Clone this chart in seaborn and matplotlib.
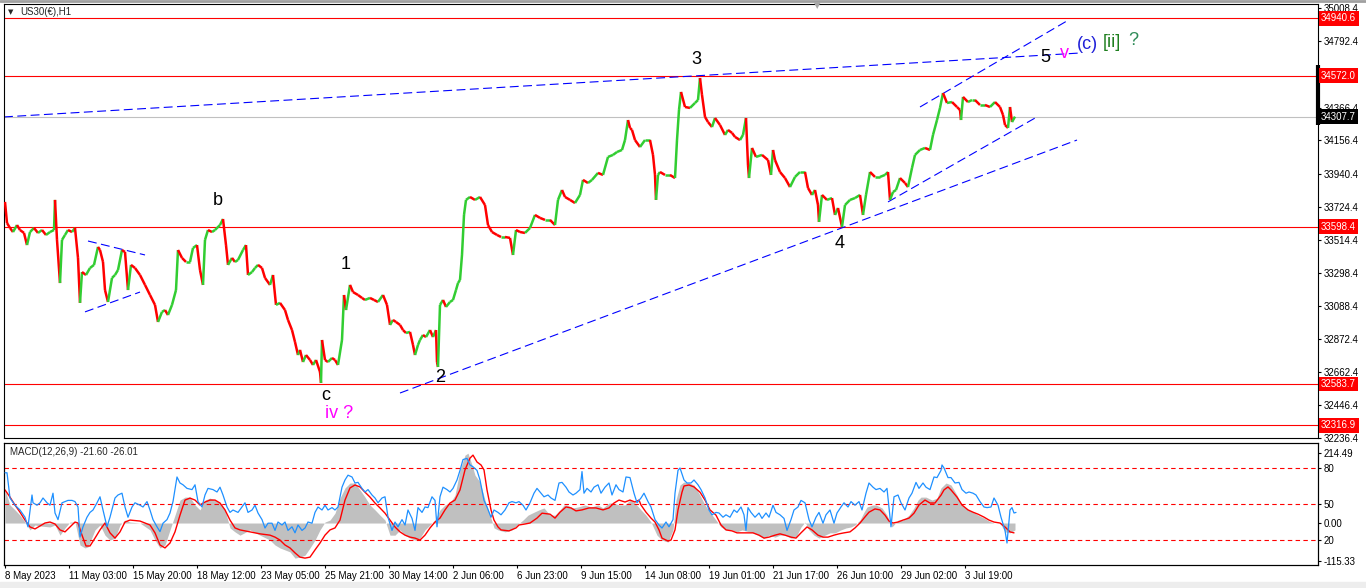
import numpy as np
import matplotlib
matplotlib.use("Agg")
import matplotlib.pyplot as plt
import matplotlib.transforms as mtrans
from matplotlib.collections import LineCollection
import seaborn as sns

# ---------------- data ----------------
# H1 bars are indexed 1 bar per column, as on the MT4 chart
price_bar = [5, 7, 10, 13, 17, 20, 24, 27, 30, 34,
             38, 42, 46, 50, 54, 55, 57, 60, 62, 65,
             68, 72, 75, 78, 80, 82, 86, 90, 94, 98,
             100, 103, 105, 108, 112, 115, 118, 122, 125, 128,
             131, 135, 140, 145, 150, 155, 158, 162, 165, 168,
             172, 176, 178, 182, 186, 190, 193, 197, 200, 203,
             205, 208, 212, 215, 220, 223, 226, 228, 232, 235,
             238, 243, 246, 248, 252, 255, 258, 262, 265, 270,
             273, 276, 280, 285, 288, 292, 295, 298, 300, 303,
             306, 310, 313, 316, 320, 321, 322, 325, 328, 332,
             335, 338, 342, 344, 346, 350, 353, 358, 362, 365,
             370, 374, 378, 383, 387, 390, 393, 396, 400, 403,
             406, 410, 413, 415, 418, 420, 423, 426, 430, 433,
             436, 437, 438, 440, 443, 446, 450, 453, 456, 458,
             460, 462, 464, 466, 470, 475, 480, 485, 488, 492,
             497, 501, 505, 510, 513, 516, 520, 525, 530, 535,
             540, 545, 550, 555, 558, 562, 565, 570, 575, 580,
             583, 588, 592, 598, 603, 608, 613, 617, 622, 625,
             628, 630, 632, 635, 640, 645, 650, 653, 655, 656,
             658, 660, 665, 670, 675, 677, 679, 681, 685, 690,
             695, 698, 700, 702, 705, 708, 712, 715, 720, 725,
             728, 732, 735, 740, 743, 746, 748, 749, 752, 756,
             762, 768, 771, 773, 775, 780, 785, 790, 795, 800,
             805, 808, 812, 815, 818, 819, 822, 827, 832, 835,
             838, 842, 845, 850, 855, 860, 863, 866, 870, 875,
             880, 885, 888, 890, 893, 896, 900, 905, 908, 912,
             915, 920, 925, 930, 933, 937, 940, 943, 947, 952,
             957, 960, 961, 963, 968, 972, 975, 980, 985, 990,
             995, 1000, 1003, 1005, 1008, 1010, 1012, 1015]
price_val = [33758, 33622, 33590, 33564, 33609, 33577, 33558, 33480, 33564, 33590,
             33558, 33577, 33545, 33564, 33577, 33771, 33513, 33235, 33513, 33545,
             33577, 33564, 33590, 33397, 33107, 33306, 33287, 33332, 33352, 33468,
             33448, 33371, 33190, 33113, 33268, 33287, 33319, 33448, 33435, 33190,
             33352, 33332, 33287, 33223, 33158, 33094, 32984, 33049, 33061, 33029,
             33094, 33190, 33448, 33397, 33371, 33371, 33461, 33480, 33319, 33223,
             33513, 33577, 33564, 33577, 33609, 33648, 33480, 33352, 33397, 33371,
             33384, 33448, 33480, 33287, 33306, 33332, 33352, 33332, 33268, 33223,
             33287, 33094, 33107, 33061, 32997, 32932, 32855, 32771, 32804, 32726,
             32771, 32739, 32707, 32739, 32662, 32591, 32868, 32739, 32726, 32752,
             32739, 32707, 32868, 33158, 33061, 33223, 33177, 33158, 33139, 33126,
             33139, 33126, 33113, 33158, 33094, 32965, 32997, 32984, 32965, 32932,
             32913, 32920, 32836, 32771, 32836, 32868, 32900, 32887, 32932, 32887,
             32932, 32726, 32694, 33094, 33126, 33081, 33113, 33126, 33190, 33235,
             33255, 33416, 33674, 33771, 33790, 33771, 33790, 33738, 33609, 33564,
             33545, 33532, 33532, 33526, 33416, 33577, 33564, 33558, 33590, 33674,
             33655, 33642, 33642, 33609, 33771, 33835, 33790, 33771, 33751, 33803,
             33900, 33880, 33900, 33945, 33932, 34048, 34061, 34080, 34093, 34157,
             34286, 34235, 34222, 34157, 34112, 34157, 34157, 34061, 33932, 33771,
             33932, 33951, 33932, 33932, 33912, 34157, 34351, 34467, 34370, 34364,
             34396, 34415, 34557, 34448, 34306, 34273, 34241, 34299, 34254, 34190,
             34222, 34203, 34177, 34157, 34190, 34299, 33996, 33912, 34106, 34048,
             34061, 34028, 33932, 34093, 34028, 33951, 33912, 33854, 33919, 33951,
             33951, 33848, 33803, 33835, 33738, 33629, 33803, 33771, 33783, 33674,
             33719, 33597, 33738, 33771, 33783, 33803, 33674, 33803, 33951, 33919,
             33919, 33932, 33951, 33771, 33822, 33835, 33912, 33880, 33854, 33977,
             34061, 34093, 34106, 34093, 34190, 34286, 34364, 34460, 34396, 34402,
             34370, 34351, 34286, 34435, 34402, 34415, 34415, 34383, 34383, 34370,
             34402, 34370, 34319, 34254, 34235, 34370, 34273, 34308]

macd_bar = [5, 10, 15, 20, 25, 30, 35, 40, 50, 55, 60, 65, 70, 75, 80, 85, 88, 95, 100, 105,
            110, 115, 120, 125, 130, 140, 150, 155, 160, 165, 170, 175, 180, 185, 190, 195, 200, 205, 210, 215,
            220, 225, 230, 235, 240, 250, 260, 270, 275, 280, 285, 290, 295, 300, 305, 310, 315, 320, 325, 330,
            335, 340, 345, 350, 355, 360, 365, 370, 375, 380, 385, 390, 395, 400, 405, 410, 415, 420, 425, 430,
            435, 440, 445, 450, 455, 460, 465, 468, 472, 475, 480, 485, 491, 494, 498, 505, 512, 517, 523, 528,
            534, 539, 544, 550, 555, 560, 564, 567, 573, 578, 585, 591, 598, 603, 609, 614, 619, 625, 630, 635,
            641, 646, 651, 657, 662, 668, 673, 676, 680, 684, 689, 694, 700, 705, 710, 716, 721, 726, 732, 737,
            742, 753, 764, 769, 775, 780, 785, 791, 796, 801, 805, 809, 814, 819, 825, 830, 835, 841, 846, 851,
            855, 860, 864, 867, 873, 876, 882, 887, 892, 898, 903, 909, 914, 918, 921, 926, 932, 937, 941, 946,
            951, 957, 962, 968, 973, 978, 984, 989, 994, 1000, 1005, 1010, 1015]
macd_val = [101, 55, 40, 24, 3, -21, -6, -9, -12, -6, -37, -15, 3, 3, -67, -76, -73, -21, -6, -37,
            -52, -46, -6, 9, 3, 0, -21, -52, -76, -67, -21, 24, 70, 79, 79, 55, 40, 70, 76, 70,
            61, 40, -15, -27, -37, -21, -37, -52, -67, -76, -82, -88, -107, -104, -98, -76, -52, -21, 3, 9,
            30, 76, 107, 122, 122, 101, 79, 55, 40, 24, 9, -37, -37, -21, -37, -46, -52, -46, -21, -6,
            9, 40, 55, 61, 85, 162, 207, 213, 177, 146, 125, 70, 15, -15, -21, -27, -21, -6, 9, 24,
            33, 40, 46, 24, 24, 40, 55, 55, 46, 49, 55, 49, 55, 46, 61, 61, 55, 55, 70, 61,
            40, 24, 3, -37, -52, -58, -21, 70, 116, 125, 122, 116, 85, 55, 33, 9, -12, -21, -21, -27,
            -21, -30, -46, -37, -43, -37, -37, -46, -43, -12, 3, -21, -37, -46, -37, -30, -30, -21, -15, -12,
            -6, 9, 33, 49, 55, 55, 46, 24, -12, 9, 9, 24, 46, 70, 79, 79, 70, 76, 107, 122,
            116, 85, 55, 40, 33, 24, 15, 6, 0, 0, -27, -30, -21]

sig_bar = [5, 10, 15, 20, 25, 30, 35, 40, 45, 50, 55, 60, 65, 70, 75, 78, 82, 86, 90, 95,
           100, 105, 110, 115, 120, 125, 130, 140, 150, 155, 160, 165, 170, 175, 180, 185, 190, 195, 200, 205,
           210, 215, 220, 225, 230, 235, 240, 250, 260, 270, 275, 280, 285, 290, 295, 300, 305, 310, 315, 320,
           325, 330, 335, 340, 345, 350, 355, 360, 365, 370, 375, 380, 385, 390, 395, 400, 405, 410, 415, 420,
           425, 430, 435, 440, 445, 450, 455, 460, 465, 470, 473, 477, 481, 484, 487, 491, 494, 498, 501, 509,
           516, 519, 525, 530, 537, 542, 550, 555, 560, 566, 571, 576, 582, 589, 596, 603, 609, 614, 619, 625,
           630, 635, 639, 641, 646, 651, 655, 659, 662, 668, 671, 675, 678, 682, 684, 689, 694, 700, 705, 710,
           716, 721, 726, 732, 737, 748, 753, 759, 764, 769, 775, 780, 785, 791, 796, 801, 807, 812, 818, 823,
           828, 834, 839, 844, 850, 855, 860, 864, 869, 875, 880, 885, 889, 893, 898, 903, 909, 914, 919, 925,
           930, 935, 941, 944, 948, 951, 957, 962, 968, 973, 978, 984, 989, 994, 1000, 1005, 1010, 1014]
sig_val = [101, 79, 55, 33, 9, -12, -18, -9, 0, 3, -3, -21, -27, -12, 3, 0, -37, -70, -70, -46,
           -21, 0, -30, -46, -27, 3, 9, 6, -6, -30, -67, -76, -61, -27, 24, 70, 76, 70, 55, 64,
           70, 70, 61, 40, 9, -15, -21, -27, -33, -37, -43, -52, -67, -76, -91, -104, -107, -104, -82, -61,
           -37, -21, -15, 9, 70, 107, 116, 110, 94, 79, 61, 46, 30, 9, -12, -27, -37, -43, -46, -52,
           -37, -15, 3, 15, 40, 61, 70, 101, 162, 198, 207, 186, 177, 162, 101, 40, 9, -12, -21, -24,
           -15, -6, -3, 0, 15, 30, 27, 15, 33, 49, 46, 37, 40, 46, 46, 40, 46, 61, 70, 64,
           70, 64, 70, 55, 33, 15, 3, -21, -46, -55, -52, -21, 40, 94, 113, 116, 110, 94, 70, 40,
           24, -6, -21, -24, -30, -30, -30, -37, -46, -43, -37, -33, -37, -43, -46, -30, -12, -21, -37, -43,
           -43, -37, -33, -30, -27, -15, 0, 15, 33, 43, 40, 24, 6, 0, 3, 9, 15, 30, 55, 70,
           61, 61, 85, 101, 110, 101, 79, 55, 40, 33, 27, 18, 9, 3, 0, -12, -27, -30]

osc_bar = [5, 7, 10, 15, 20, 25, 28, 32, 33, 37, 40, 43, 47, 50, 53, 55, 58, 62, 65, 68,
           72, 75, 78, 80, 83, 87, 90, 93, 97, 100, 103, 107, 110, 115, 118, 122, 125, 128, 132, 135,
           140, 143, 147, 150, 153, 157, 160, 163, 167, 170, 173, 177, 180, 183, 187, 192, 195, 198, 202, 205,
           208, 213, 217, 220, 223, 227, 230, 233, 238, 242, 245, 248, 252, 255, 258, 262, 265, 268, 272, 275,
           278, 282, 285, 288, 292, 295, 298, 302, 305, 308, 312, 315, 318, 322, 325, 328, 332, 335, 338, 342,
           345, 348, 352, 355, 358, 362, 365, 368, 372, 375, 378, 382, 385, 388, 392, 395, 398, 402, 405, 408,
           412, 415, 418, 422, 425, 428, 432, 435, 437, 440, 443, 447, 450, 453, 457, 460, 463, 467, 470, 473,
           477, 480, 484, 487, 491, 494, 498, 501, 505, 509, 512, 516, 519, 523, 526, 530, 534, 537, 541, 544,
           548, 551, 555, 559, 562, 566, 569, 573, 576, 580, 582, 584, 587, 591, 594, 598, 601, 605, 609, 612,
           616, 619, 623, 626, 630, 634, 637, 641, 644, 648, 651, 655, 659, 662, 666, 669, 673, 675, 678, 680,
           684, 687, 691, 694, 698, 701, 705, 709, 712, 716, 719, 723, 726, 730, 734, 737, 741, 744, 746, 748,
           751, 755, 759, 762, 766, 769, 773, 776, 780, 784, 787, 791, 794, 798, 801, 805, 809, 812, 816, 819,
           823, 826, 830, 834, 837, 841, 844, 848, 851, 855, 859, 862, 866, 869, 873, 876, 880, 884, 887, 891,
           894, 898, 901, 905, 909, 912, 916, 919, 923, 926, 930, 934, 937, 941, 942, 944, 948, 951, 955, 959,
           962, 966, 969, 973, 976, 980, 984, 987, 991, 994, 998, 1001, 1005, 1007, 1010, 1012, 1014, 1016]
osc_val = [76, 76, 55, 49, 45, 39, 31, 57.5, 51, 49, 51, 55, 51, 49, 59, 42.5, 37, 51, 52, 53,
           53, 52, 47.5, 22.5, 31, 39, 43, 45, 51, 56, 45, 31, 39, 55, 57.5, 59, 47.5, 39, 47.5, 51,
           49, 47.5, 52, 45, 37, 31, 27, 34, 37, 42.5, 52, 72.5, 67.5, 66, 63, 62, 66, 52, 47.5, 57.5,
           63, 62, 60, 64, 57.5, 47.5, 43, 45, 43, 47.5, 51, 43, 45, 49, 42.5, 37, 30, 34, 34, 28,
           35, 32.5, 35, 28, 31, 26, 32.5, 28, 30, 35, 34, 43, 47.5, 45, 49, 45, 47, 45, 47.5, 64,
           70, 74, 72.5, 67.5, 68, 63, 60, 62, 57.5, 55, 51, 55, 56, 39, 28, 35, 31, 37, 32.5, 45,
           38, 28, 47, 43, 47.5, 47, 56, 53, 31, 56, 64, 62, 60, 63, 70, 78, 87, 88, 82.5, 81,
           78, 70, 53, 47.5, 39, 45, 43, 41, 45, 51, 52, 51, 52, 49, 45, 51, 59, 63, 59, 56,
           57.5, 55, 53, 67.5, 68, 64, 60, 57.5, 59, 62, 77, 59, 63, 60, 64, 66, 59, 64, 67.5, 57.5,
           66, 62, 60, 72.5, 72, 59, 51, 55, 59, 52, 47.5, 37, 32.5, 30, 35, 31, 37, 59, 78, 80,
           70, 67.5, 67.5, 70, 66, 62, 55, 45, 41, 43, 42.5, 39, 41, 39, 45, 43, 47.5, 41, 28, 47,
           43, 39, 42.5, 38, 42.5, 39, 49, 43, 41, 38, 28, 37, 45, 47.5, 53, 51, 37, 31, 39, 43,
           34, 41, 45, 34, 42.5, 47.5, 51, 47.5, 52, 49, 52, 45, 59, 67.5, 64, 62, 63, 60, 63, 31,
           56, 57.5, 51, 45, 55, 59, 68, 63, 67.5, 64, 62, 72.5, 72, 78, 82.5, 80, 72, 72, 67.5, 68,
           62, 59, 60, 59, 57.5, 52, 47.5, 47, 47.5, 55, 49, 39, 28, 17.5, 45, 47, 42.5, 43]

level_lines = [34940.6, 34572.0, 33598.4, 32583.7, 32316.9]
current_price = 34307.7
price_ticks = [35008.4, 34792.4, 34366.4, 34156.4, 33940.4, 33724.4, 33514.4,
               33298.4, 33088.4, 32872.4, 32662.4, 32446.4, 32236.4]
osc_levels = [80, 50, 20]
macd_ticks = [214.49, 0.0, -115.33]
macd_ticklabels = ["214.49", "0.00", "-115.33"]

x_tick_bar = [5, 69, 133, 197, 261, 325, 389, 453, 517, 581, 645, 709, 773, 837, 901, 965]
x_tick_labels = ["8 May 2023", "11 May 03:00", "15 May 20:00", "18 May 12:00", "23 May 05:00",
                 "25 May 21:00", "30 May 14:00", "2 Jun 06:00", "6 Jun 23:00", "9 Jun 15:00",
                 "14 Jun 08:00", "19 Jun 01:00", "21 Jun 17:00", "26 Jun 10:00", "29 Jun 02:00",
                 "3 Jul 19:00"]

# trend lines: (bar0, price0, bar1, price1)
trend_lines = [(4, 34306, 1080, 34718),
               (400, 32526, 1077, 34157),
               (888, 33758, 1037, 34306),
               (920, 34370, 1067, 34925),
               (88, 33506, 145, 33416),
               (85, 33049, 140, 33177)]

# wave labels: text, bar, price, colour
wave_text = ["b", "1", "c", "iv ?", "2", "3", "4", "5", "v", "(c)", "[ii]", "?"]
wave_bar = [218, 346, 326, 339, 440, 696, 840, 1045, 1064, 1087, 1112, 1133]
wave_price = [33764, 33352, 32507, 32397, 32629, 34673, 33487, 34686, 34712, 34770, 34783, 34796]
wave_color = ["black", "black", "black", "#FF00FF", "black", "black", "black", "black",
              "#FF00FF", "#2020D8", "#1E7F1E", "#2E8B57"]

# ---------------- figure ----------------
sns.set_style("white")
plt.rcParams['font.family'] = ['Liberation Sans', 'DejaVu Sans']

W, H = 1366, 588
fig = plt.figure(figsize=(W / 100, H / 100), dpi=100)
fig.patch.set_facecolor("white")


def rect(x0, y0, x1, y1):
    return [x0 / W, 1 - y1 / H, (x1 - x0) / W, (y1 - y0) / H]


ax = fig.add_axes(rect(4, 4, 1318, 438))
axm = fig.add_axes(rect(4, 443, 1318, 565), sharex=ax)
axo = axm.twinx()

for a in (ax, axm, axo):
    a.set_facecolor("none")
    for s in a.spines.values():
        s.set_color("black")
        s.set_linewidth(0.8)
ax.set_facecolor("white")
axm.set_facecolor("white")

ax.set_xlim(4, 1318)
ax.set_ylim(32236, 35034)

# horizontal levels
for lv in level_lines:
    ax.axhline(lv, color="#FF0000", lw=0.8, zorder=1)
ax.axhline(current_price, color="#C0C0C0", lw=0.8, zorder=1)

# trend lines
for (b0, p0, b1, p1) in trend_lines:
    ax.plot([b0, b1], [p0, p1], color="#0000FF", lw=0.8, ls=(0, (8, 4)), zorder=2)

# price path (bull moves green, bear moves red)
pv = np.asarray(price_val, dtype=float)
pts = np.column_stack([np.asarray(price_bar, dtype=float), pv])
segs = np.stack([pts[:-1], pts[1:]], axis=1)
cols = np.where(np.diff(pv) >= 0, "#32CD32", "#FF0000")
ax.add_collection(LineCollection(segs, colors=cols, linewidths=1.8, zorder=3,
                                 capstyle="butt", joinstyle="miter"))

# wave labels
for t, b, p, c in zip(wave_text, wave_bar, wave_price, wave_color):
    ax.text(b, p, t, color=c, fontsize=13, ha="center", va="center", zorder=5)

# price axis on right
ax.yaxis.tick_right()
ax.set_yticks(price_ticks)
ax.set_yticklabels([f"{v:.1f}" for v in price_ticks])
ax.tick_params(axis="y", which="both", right=True, length=2.5, width=0.8, pad=1.5,
               labelsize=7, colors="black")
ax.tick_params(axis="x", bottom=False, labelbottom=False)

bt = mtrans.blended_transform_factory(ax.transAxes, ax.transData)
x_lab = 1.0 + 3 / 1314
for lv in level_lines:
    ax.text(x_lab, lv, f"{lv:.1f}", transform=bt, ha="left", va="center", fontsize=7,
            color="white", clip_on=False, zorder=10,
            bbox=dict(boxstyle="square,pad=0.25", fc="#FF0000", ec="none"))
ax.text(x_lab, current_price, f"{current_price:.1f}", transform=bt, ha="left", va="center",
        fontsize=7, color="white", clip_on=False, zorder=10,
        bbox=dict(boxstyle="square,pad=0.25", fc="black", ec="none"))
ax.plot([1.0, 1.0], [34254, 34641], transform=bt, color="black", lw=3, clip_on=False,
        solid_capstyle="butt", zorder=9)

# title
ax.text((8 - 4) / 1314, 1 - 8 / 434, "\u25BC", transform=ax.transAxes, fontsize=5,
        ha="left", va="center", family="DejaVu Sans")
ax.text((20 - 4) / 1314, 1 - 8 / 434, "US30(\u20ac),H1", transform=ax.transAxes, fontsize=7,
        ha="left", va="center")
ax.text((817 - 4) / 1314, 1 - 2 / 434, "\u25BC", transform=ax.transAxes, fontsize=6,
        ha="center", va="center", color="#A8A8A8", family="DejaVu Sans")

# ---------------- MACD panel ----------------
axm.set_ylim(-128, 244)
axo.set_ylim(-0.8, 100.8)
axm.fill_between(macd_bar, 0, macd_val, color="#C0C0C0", lw=0, zorder=1)
sns.lineplot(x=sig_bar, y=sig_val, ax=axm, color="#FF0000", lw=1.0, zorder=3)
for lv in osc_levels:
    axo.axhline(lv, color="#FF0000", lw=0.8, ls=(0, (4, 3)), zorder=1)
sns.lineplot(x=osc_bar, y=osc_val, ax=axo, color="#1E90FF", lw=0.9, zorder=4)

axm.yaxis.tick_right()
axm.set_yticks(macd_ticks)
axm.set_yticklabels(macd_ticklabels)
axo.set_yticks(osc_levels)
axo.set_yticklabels([str(v) for v in osc_levels])
for a in (axm, axo):
    a.tick_params(axis="y", right=True, left=False, length=2.5, width=0.8, pad=1.5,
                  labelsize=7, colors="black")
    a.set_ylabel("")
axm.set_xlabel("")

axm.set_xticks(x_tick_bar)
axm.set_xticklabels(x_tick_labels)
axm.tick_params(axis="x", bottom=True, length=2.5, width=0.8, pad=2, labelsize=7, colors="black")
for lab in axm.get_xticklabels():
    lab.set_horizontalalignment("left")
axo.tick_params(axis="x", bottom=False, labelbottom=False)

axm.text((10 - 4) / 1314, 1 - 9 / 122, "MACD(12,26,9) -21.60 -26.01", transform=axm.transAxes,
         fontsize=7, ha="left", va="center", zorder=6)

# window chrome
fig.add_artist(plt.Line2D([0, 1], [1 - 1 / H, 1 - 1 / H], color="#A0A0A0", lw=2,
                          transform=fig.transFigure))
fig.add_artist(plt.Rectangle((0, 0), 1, 6 / H, color="#EDEDED", transform=fig.transFigure,
                             zorder=-1))

fig.savefig("out.png", dpi=100, facecolor="white")
